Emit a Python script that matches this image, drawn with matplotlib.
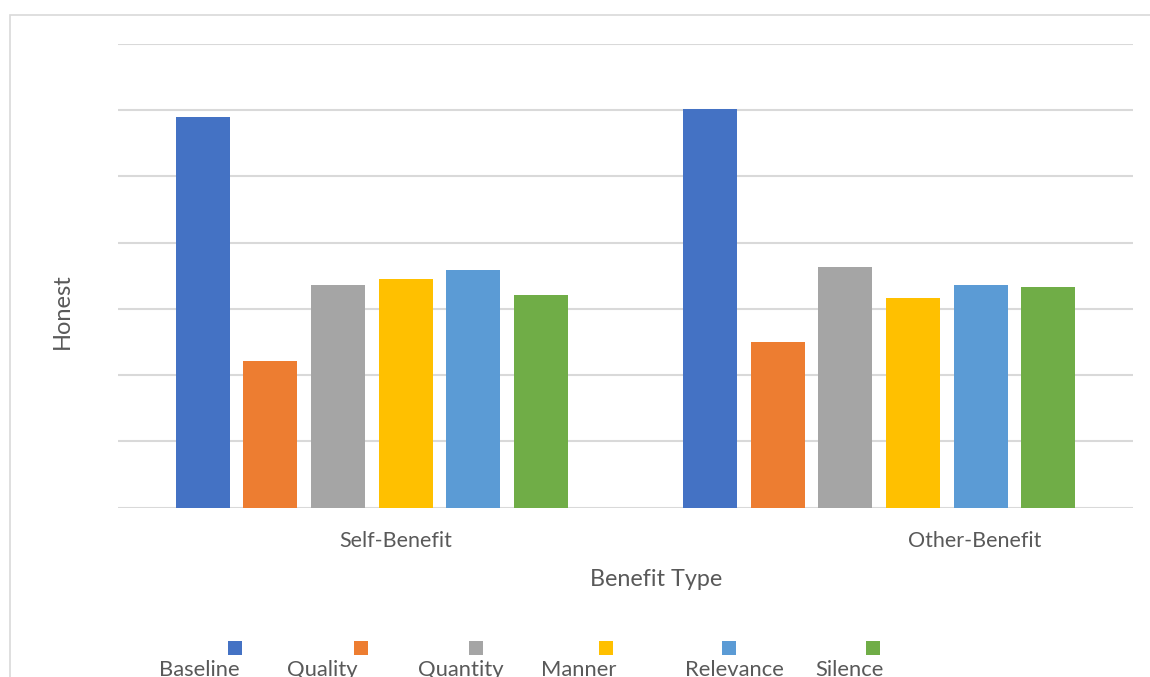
import matplotlib
matplotlib.use("Agg")
import matplotlib.pyplot as plt
import matplotlib.patches as mpatches
import numpy as np

plt.rcParams['font.family'] = ['Lato', 'DejaVu Sans']

categories = ["Self-Benefit", "Other-Benefit"]
series_names = ["Baseline", "Quality", "Quantity", "Manner", "Relevance", "Silence"]
baseline = [0.590, 0.602]
quality = [0.221, 0.250]
quantity = [0.336, 0.363]
manner = [0.345, 0.316]
relevance = [0.359, 0.336]
silence = [0.321, 0.333]
colors = ["#4472C4", "#ED7D31", "#A5A5A5", "#FFC000", "#5B9BD5", "#70AD47"]

series = [baseline, quality, quantity, manner, relevance, silence]

W, H = 1150, 677
fig = plt.figure(figsize=(W / 100, H / 100), dpi=100)
fig.patch.set_facecolor("white")

# outer chart frame (runs off the right and bottom edges)
frame = mpatches.Rectangle((10 / W, -0.2), 1.2, (H - 15) / H + 0.2,
                           transform=fig.transFigure, fill=False,
                           edgecolor="#d9d9d9", linewidth=1.2)
fig.add_artist(frame)

left, right, top, bottom = 118, 1133, 44, 507.5
ax = fig.add_axes([left / W, (H - bottom) / H, (right - left) / W, (bottom - top) / H])

x = np.arange(len(categories))
slot = 67.6 / 507.5
bar_w = 54 / 507.5
n = len(series)
for i, (vals, c, name) in enumerate(zip(series, colors, series_names)):
    offs = (i - (n - 1) / 2) * slot
    ax.bar(x + offs, vals, width=bar_w, color=c, label=name, zorder=3)

ax.set_xlim(-0.5, 1.5)
ax.set_ylim(0, 0.7)
ax.set_yticks(np.arange(0, 0.71, 0.1))
ax.yaxis.grid(True, color="#d9d9d9", linewidth=1.5, zorder=0)
ax.set_yticklabels([])
ax.tick_params(axis="both", length=0)
ax.set_xticks([])
for s in ax.spines.values():
    s.set_visible(False)

text_color = "#595959"
# category labels
cat_label_x = [396, 975]
for cx, lab in zip(cat_label_x, categories):
    fig.text(cx / W, 1 - 541 / H, lab, ha="center", va="center",
             fontsize=15.5, color=text_color)

fig.text(656 / W, 1 - 579 / H, "Benefit Type", ha="center", va="center",
         fontsize=16.8, color=text_color)
fig.text(62 / W, 1 - 311 / H, "Honest", ha="center", va="center",
         rotation=90, fontsize=17, color=text_color)

# legend: squares above their labels
marker_x = [235, 361, 476, 606, 729, 873]
label_x = [199.5, 322.5, 461, 578.5, 734.5, 849.5]
for mx, lx, c, name in zip(marker_x, label_x, colors, series_names):
    sq = mpatches.Rectangle(((mx - 7) / W, 1 - 655 / H), 14 / W, 14 / H,
                            transform=fig.transFigure, facecolor=c,
                            edgecolor="none")
    fig.add_artist(sq)
    fig.text(lx / W, 1 - 670 / H, name, ha="center", va="center",
             fontsize=15.8, color=text_color)

fig.savefig("out.png", dpi=100, facecolor="white")
